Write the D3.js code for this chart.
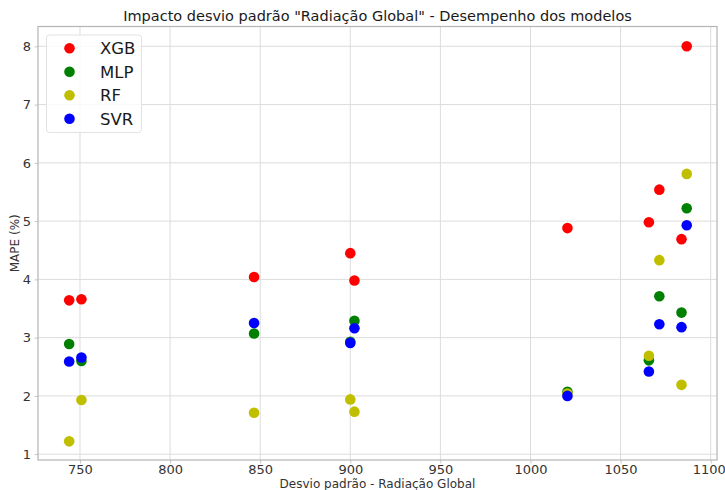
<!DOCTYPE html>
<meta charset="utf-8" />
<head>
  <style>
    body { margin: 0; background: #fff; }
    text { font-family: "DejaVu Sans", sans-serif; }
  </style>
  <script src="https://d3js.org/d3.v7.min.js"></script>
</head>
<body>
  <svg width="725" height="490"></svg>
  <script>
    // x values (desvio padrão) shared by every model
    const desvio = [744, 750.8, 846.6, 900, 902.3, 1020.5, 1065.7, 1071.5, 1083.8, 1086.7];

    const xgb = [3.64, 3.66, 4.04, 4.45, 3.98, 4.88, 4.98, 5.54, 4.69, 8.0];
    const mlp = [2.89, 2.60, 3.07, 2.93, 3.29, 2.07, 2.61, 3.71, 3.43, 5.22];
    const rf  = [1.22, 1.93, 1.71, 1.94, 1.73, 2.04, 2.69, 4.33, 2.19, 5.81];
    const svr = [2.59, 2.66, 3.25, 2.91, 3.16, 2.00, 2.42, 3.23, 3.18, 4.93];

    const modelNames = ["XGB", "MLP", "RF", "SVR"];
    const modelColors = ["#ff0000", "#008000", "#bfbf00", "#0000ff"];
    const xTicks = [750, 800, 850, 900, 950, 1000, 1050, 1100];
    const yTicks = [1, 2, 3, 4, 5, 6, 7, 8];

    const series = [xgb, mlp, rf, svr].map((vals, i) => ({
      name: modelNames[i],
      color: modelColors[i],
      points: vals.map((v, j) => ({ x: desvio[j], y: v }))
    }));

    const svg = d3.select("svg");
    const pLeft = 38, pRight = 717, pTop = 26.5, pBottom = 460;

    const x = d3.scaleLinear().domain([726.7, 1103.5]).range([pLeft, pRight]);
    const y = d3.scaleLinear().domain([0.9, 8.34]).range([pBottom, pTop]);

    // grid
    svg.append("g")
      .selectAll("line")
      .data(xTicks)
      .enter().append("line")
      .attr("x1", d => x(d)).attr("x2", d => x(d))
      .attr("y1", pTop).attr("y2", pBottom)
      .attr("stroke", "#dcdcdc").attr("stroke-width", 1);
    svg.append("g")
      .selectAll("line")
      .data(yTicks)
      .enter().append("line")
      .attr("x1", pLeft).attr("x2", pRight)
      .attr("y1", d => y(d)).attr("y2", d => y(d))
      .attr("stroke", "#dcdcdc").attr("stroke-width", 1);

    // axes
    const xAxis = svg.append("g")
      .attr("transform", "translate(0," + pBottom + ")")
      .call(d3.axisBottom(x).tickValues(xTicks).tickFormat(d3.format("d"))
        .tickSize(3.5).tickPadding(1.5));
    const yAxis = svg.append("g")
      .attr("transform", "translate(" + pLeft + ",0)")
      .call(d3.axisLeft(y).tickValues(yTicks).tickFormat(d3.format("d"))
        .tickSize(3.5).tickPadding(3.5));
    [xAxis, yAxis].forEach(a => {
      a.select(".domain").remove();
      a.selectAll("line").attr("stroke", "#c8c8c8");
      a.selectAll("text")
        .style("font-family", "DejaVu Sans")
        .style("font-size", "13px")
        .attr("fill", "#333");
    });
    // keep the last label inside the window, as in the original
    xAxis.selectAll("text").filter(d => d === 1100).attr("dx", "-2px");

    // frame
    svg.append("rect")
      .attr("x", pLeft).attr("y", pTop)
      .attr("width", pRight - pLeft).attr("height", pBottom - pTop)
      .attr("fill", "none").attr("stroke", "#b4b4b4").attr("stroke-width", 1.2);

    // points
    series.forEach(s => {
      svg.append("g")
        .selectAll("circle")
        .data(s.points)
        .enter().append("circle")
        .attr("cx", d => x(d.x))
        .attr("cy", d => y(d.y))
        .attr("r", 5.3)
        .attr("fill", s.color);
    });

    // legend
    const legend = svg.append("g");
    legend.append("rect")
      .attr("x", 46.5).attr("y", 35)
      .attr("width", 95).attr("height", 97.5)
      .attr("rx", 3)
      .attr("fill", "#fff").attr("fill-opacity", 0.8)
      .attr("stroke", "#e2e2e2");
    series.forEach((s, i) => {
      const ly = 48.3 + i * 23.5;
      legend.append("circle")
        .attr("cx", 69.5).attr("cy", ly).attr("r", 5.3).attr("fill", s.color);
      legend.append("text")
        .attr("x", 100).attr("y", ly)
        .attr("dy", "0.36em")
        .style("font-size", "16.5px")
        .attr("fill", "#1a1a1a")
        .text(s.name);
    });

    // titles
    svg.append("text")
      .attr("x", (pLeft + pRight) / 2).attr("y", 21)
      .attr("text-anchor", "middle")
      .style("font-size", "14.5px")
      .attr("fill", "#1a1a1a")
      .text("Impacto desvio padrão \"Radiação Global\" - Desempenho dos modelos");

    svg.append("text")
      .attr("x", (pLeft + pRight) / 2).attr("y", 487.5)
      .attr("text-anchor", "middle")
      .style("font-size", "12px")
      .attr("fill", "#333")
      .text("Desvio padrão - Radiação Global");

    svg.append("text")
      .attr("transform", "translate(19," + ((pTop + pBottom) / 2) + ") rotate(-90)")
      .attr("text-anchor", "middle")
      .style("font-size", "12px")
      .attr("fill", "#333")
      .text("MAPE (%)");
  </script>
</body>
